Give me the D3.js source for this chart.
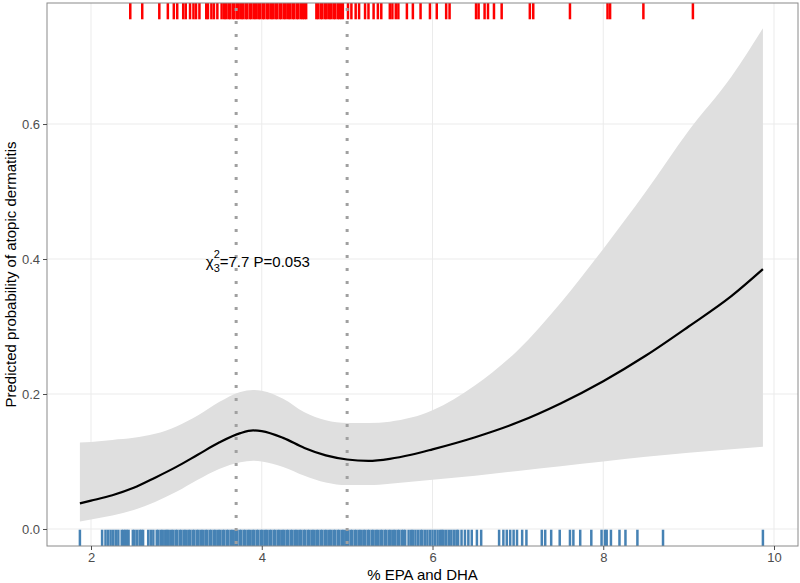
<!DOCTYPE html>
<html>
<head>
<meta charset="utf-8">
<script src="https://d3js.org/d3.v7.min.js"></script>
<style>
  body { margin: 0; background: #fff; }
  text { font-family: "Liberation Sans", Arial, Helvetica, sans-serif; }
</style>
</head>
<body>
<svg width="800" height="583"></svg>
<script>
// fitted spline and its confidence band
var xs    = [1.87, 2.0, 2.25, 2.5, 2.75, 3.0, 3.25, 3.5, 3.75, 3.9, 4.0, 4.25, 4.5, 4.75, 5.0, 5.25, 5.5, 5.75, 6.0, 6.5, 7.0, 7.5, 8.0, 8.5, 9.0, 9.5, 9.87];
var fit   = [0.038, 0.042, 0.050, 0.061, 0.076, 0.092, 0.110, 0.128, 0.142, 0.146, 0.145, 0.135, 0.120, 0.109, 0.103, 0.101, 0.104, 0.110, 0.118, 0.136, 0.158, 0.186, 0.219, 0.257, 0.300, 0.345, 0.385];
var upper = [0.128, 0.129, 0.132, 0.135, 0.141, 0.152, 0.168, 0.188, 0.203, 0.206, 0.205, 0.193, 0.173, 0.161, 0.157, 0.157, 0.159, 0.165, 0.176, 0.213, 0.265, 0.335, 0.415, 0.500, 0.590, 0.670, 0.742];
var lower = [0.011, 0.014, 0.020, 0.028, 0.040, 0.055, 0.073, 0.089, 0.099, 0.101, 0.100, 0.092, 0.079, 0.069, 0.065, 0.065, 0.067, 0.070, 0.073, 0.079, 0.086, 0.093, 0.100, 0.107, 0.113, 0.118, 0.122];

// observations: cases (top rug) and non-cases (bottom rug)
var casesX = [2.46, 2.60, 2.80, 2.90, 2.97, 3.01, 3.08, 3.11, 3.16, 3.20, 3.23, 3.27, 3.35, 3.37, 3.41, 3.44, 3.48,
  3.53, 3.56, 3.58, 3.61, 3.63, 3.66, 3.68, 3.71, 3.73, 3.76, 3.78, 3.81, 3.83, 3.86, 3.88, 3.91, 3.93, 3.96, 3.98,
  4.01, 4.03, 4.06, 4.08, 4.11, 4.13, 4.16, 4.18, 4.21, 4.23, 4.26, 4.28, 4.31, 4.33, 4.36, 4.38, 4.41, 4.43, 4.46,
  4.48, 4.50, 4.52, 4.64, 4.66, 4.69, 4.71, 4.74, 4.76, 4.79, 4.81, 4.84, 4.86, 4.89, 4.91, 4.93, 4.95,
  5.01, 5.05, 5.10, 5.14, 5.21, 5.25, 5.31, 5.36, 5.40, 5.50, 5.53, 5.57, 5.60, 5.70, 5.77, 5.86, 5.97, 6.05,
  6.16, 6.20, 6.51, 6.54, 6.61, 6.65, 6.72, 6.81, 7.14, 7.18, 7.61, 8.05, 8.08, 8.47, 9.05];
var controlsX = [1.87, 2.13, 2.17, 2.20, 2.23, 2.26, 2.29, 2.32, 2.36, 2.38, 2.40, 2.42, 2.44, 2.49, 2.51, 2.54,
  2.57, 2.59, 2.61, 2.67, 2.70, 2.73, 2.77, 2.79, 2.82, 2.84, 2.87,
  2.89, 2.91, 2.94, 2.96, 2.99, 3.01, 3.04, 3.06, 3.09, 3.11, 3.14, 3.16, 3.19, 3.21, 3.24, 3.26, 3.29, 3.31,
  3.34, 3.36, 3.39, 3.41, 3.44, 3.46, 3.49, 3.51, 3.54, 3.56, 3.59, 3.61, 3.64, 3.66, 3.69, 3.71, 3.74, 3.76,
  3.79, 3.81, 3.84, 3.86, 3.89, 3.91, 3.94, 3.96, 3.99, 4.01, 4.04, 4.06, 4.09, 4.11, 4.14, 4.16, 4.19, 4.21,
  4.24, 4.26, 4.29, 4.31, 4.34, 4.36, 4.39, 4.41, 4.44, 4.46, 4.49, 4.51, 4.54, 4.56, 4.59, 4.61, 4.64, 4.66,
  4.69, 4.71, 4.74, 4.76, 4.79, 4.81, 4.84, 4.86, 4.89, 4.91, 4.94, 4.96, 4.99, 5.01, 5.04, 5.06, 5.09, 5.11,
  5.14, 5.16, 5.19, 5.21, 5.24, 5.26, 5.29, 5.31, 5.34, 5.36, 5.39, 5.41, 5.44, 5.46, 5.49, 5.51, 5.54, 5.56,
  5.59, 5.61, 5.64, 5.66, 5.68, 5.72, 5.75, 5.77, 5.80, 5.83, 5.86, 5.88, 5.91, 5.94, 5.97, 6.00, 6.03, 6.06,
  6.09, 6.11, 6.13, 6.16, 6.19, 6.22, 6.25, 6.28, 6.30, 6.34, 6.38, 6.42, 6.46, 6.52, 6.57,
  6.78, 6.83, 6.87, 6.91, 6.95, 6.99, 7.05, 7.10, 7.28, 7.32, 7.39, 7.49, 7.61, 7.65, 7.73, 7.86, 7.98, 8.02,
  8.04, 8.09, 8.19, 8.26, 8.40, 8.70, 9.87];

var knots = [3.7, 5.0];
var xTicks = [2, 4, 6, 8, 10];
var yTicks = [0.0, 0.2, 0.4, 0.6];

var svg = d3.select('svg');
var pLeft = 47, pRight = 798, pTop = 3, pBottom = 546;

var x = d3.scaleLinear().domain([1.4846, 10.281]).range([pLeft, pRight]);
var y = d3.scaleLinear().domain([-0.0252, 0.7793]).range([pBottom, pTop]);

// grid
svg.append('g').selectAll('line').data(xTicks).enter().append('line')
  .attr('x1', function(d) { return x(d); }).attr('x2', function(d) { return x(d); })
  .attr('y1', pTop).attr('y2', pBottom)
  .attr('stroke', '#ebebeb').attr('stroke-width', 1);
svg.append('g').selectAll('line').data(yTicks).enter().append('line')
  .attr('y1', function(d) { return y(d); }).attr('y2', function(d) { return y(d); })
  .attr('x1', pLeft).attr('x2', pRight)
  .attr('stroke', '#ebebeb').attr('stroke-width', 1);

var rows = xs.map(function(v, i) { return {x: v, fit: fit[i], lo: lower[i], hi: upper[i]}; });

// confidence band
svg.append('path')
  .datum(rows)
  .attr('fill', '#dfdfdf')
  .attr('d', d3.area()
    .x(function(d) { return x(d.x); })
    .y0(function(d) { return y(d.lo); })
    .y1(function(d) { return y(d.hi); })
    .curve(d3.curveMonotoneX));

// rugs (3% of panel height)
var rugLen = 0.03 * (pBottom - pTop);
svg.append('g').selectAll('line').data(casesX).enter().append('line')
  .attr('x1', function(d) { return x(d); }).attr('x2', function(d) { return x(d); })
  .attr('y1', pTop).attr('y2', pTop + rugLen)
  .attr('stroke', '#ff0000').attr('stroke-width', 2.5);
svg.append('g').selectAll('line').data(controlsX).enter().append('line')
  .attr('x1', function(d) { return x(d); }).attr('x2', function(d) { return x(d); })
  .attr('y1', pBottom).attr('y2', pBottom - rugLen)
  .attr('stroke', '#4682b4').attr('stroke-width', 2.5);

// knot lines
svg.append('g').selectAll('line').data(knots).enter().append('line')
  .attr('x1', function(d) { return x(d); }).attr('x2', function(d) { return x(d); })
  .attr('y1', pTop + 5).attr('y2', pBottom)
  .attr('stroke', '#a0a0a0').attr('stroke-width', 3)
  .attr('stroke-dasharray', '3,10');

// fitted curve
svg.append('path')
  .datum(rows)
  .attr('fill', 'none')
  .attr('stroke', '#000')
  .attr('stroke-width', 2.2)
  .attr('d', d3.line()
    .x(function(d) { return x(d.x); })
    .y(function(d) { return y(d.fit); })
    .curve(d3.curveMonotoneX));

// panel border
svg.append('rect')
  .attr('x', pLeft).attr('y', pTop)
  .attr('width', pRight - pLeft).attr('height', pBottom - pTop)
  .attr('fill', 'none').attr('stroke', '#8a8a8a').attr('stroke-width', 1);

// axes
var xAxis = svg.append('g')
  .attr('transform', 'translate(0,' + pBottom + ')')
  .call(d3.axisBottom(x).tickValues(xTicks).tickSize(4).tickPadding(3).tickFormat(d3.format('d')));
var yAxis = svg.append('g')
  .attr('transform', 'translate(' + pLeft + ',0)')
  .call(d3.axisLeft(y).tickValues(yTicks).tickSize(4).tickPadding(3).tickFormat(d3.format('.1f')));
[xAxis, yAxis].forEach(function(a) {
  a.select('.domain').remove();
  a.selectAll('.tick line').attr('stroke', '#4d4d4d');
  a.selectAll('.tick text').attr('fill', '#4d4d4d')
    .style('font-size', '13px')
    .style('font-family', '"Liberation Sans", Arial, sans-serif');
});

// axis titles
svg.append('text')
  .attr('x', (pLeft + pRight) / 2).attr('y', 580)
  .attr('text-anchor', 'middle')
  .style('font-size', '15px')
  .text('% EPA and DHA');
svg.append('text')
  .attr('transform', 'translate(16,' + ((pTop + pBottom) / 2) + ') rotate(-90)')
  .attr('text-anchor', 'middle')
  .style('font-size', '15px')
  .text('Predicted probability of atopic dermatitis');

// test annotation
var ann = svg.append('text')
  .attr('x', x(4) - 56).attr('y', y(0.4) + 8)
  .style('font-size', '15px');
ann.append('tspan').text('χ');
ann.append('tspan').attr('dy', -9).style('font-size', '11px').text('2');
ann.append('tspan').attr('dx', -6.1).attr('dy', 14).style('font-size', '11px').text('3');
ann.append('tspan').attr('dy', -5).text('=7.7 P=0.053');
</script>
</body>
</html>
